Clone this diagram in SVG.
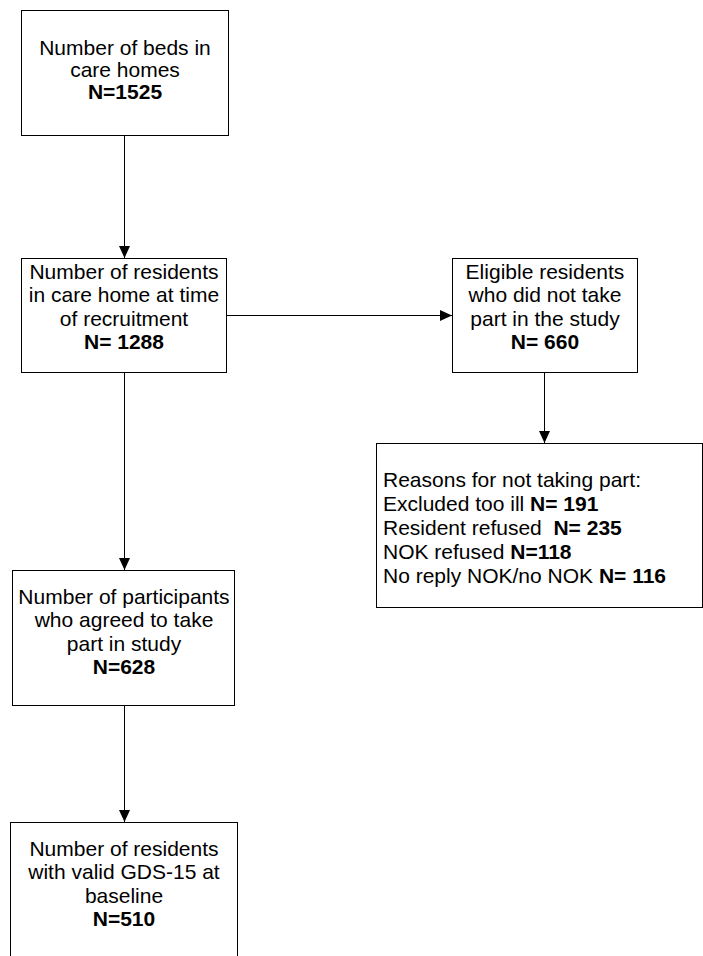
<svg xmlns="http://www.w3.org/2000/svg" width="703" height="956" viewBox="0 0 703 956">
<style>
.box{fill:#fff;stroke:#000;stroke-width:1}
.t{font-family:"Liberation Sans",Arial,sans-serif;font-size:21px;fill:#000;text-anchor:middle}
.l{text-anchor:start}
.b{font-weight:bold}
.c{stroke:#000;stroke-width:1;fill:none}
</style>
<defs>
<marker id="ah" markerUnits="userSpaceOnUse" markerWidth="12" markerHeight="12" viewBox="0 0 12 12" refX="12" refY="6" orient="auto">
<path d="M0,0.5 L12,6 L0,11.5 Z" fill="#000"/>
</marker>
</defs>
<g id="connectors">
<line class="c" x1="124.5" y1="136" x2="124.5" y2="258" marker-end="url(#ah)"/>
<line class="c" x1="124.5" y1="373" x2="124.5" y2="570" marker-end="url(#ah)"/>
<line class="c" x1="124.5" y1="706" x2="124.5" y2="822" marker-end="url(#ah)"/>
<line class="c" x1="226" y1="315.5" x2="452" y2="315.5" marker-end="url(#ah)"/>
<line class="c" x1="544.5" y1="373" x2="544.5" y2="443" marker-end="url(#ah)"/>
</g>
<g id="beds">
<rect class="box" x="21.5" y="10.5" width="207" height="125"/>
<text class="t" x="125" y="55">Number of beds in</text>
<text class="t" x="125" y="77">care homes</text>
<text class="t b" x="125" y="99">N=1525</text>
</g>
<g id="residents">
<rect class="box" x="21.5" y="258.5" width="205" height="114"/>
<text class="t" x="124" y="279">Number of residents</text>
<text class="t" x="124" y="302">in care home at time</text>
<text class="t" x="124" y="326">of recruitment</text>
<text class="t b" x="124" y="349">N= 1288</text>
</g>
<g id="eligible">
<rect class="box" x="452.5" y="258.5" width="185" height="114"/>
<text class="t" x="545" y="279">Eligible residents</text>
<text class="t" x="545" y="302">who did not take</text>
<text class="t" x="545" y="326">part in the study</text>
<text class="t b" x="545" y="349">N= 660</text>
</g>
<g id="reasons">
<rect class="box" x="376.5" y="443.5" width="326" height="164"/>
<text class="t l" x="383" y="487">Reasons for not taking part:</text>
<text class="t l" x="383" y="511">Excluded too ill <tspan class="b">N= 191</tspan></text>
<text class="t l" x="383" y="535" xml:space="preserve">Resident refused  <tspan class="b">N= 235</tspan></text>
<text class="t l" x="383" y="559">NOK refused <tspan class="b">N=118</tspan></text>
<text class="t l" x="383" y="583">No reply NOK/no NOK <tspan class="b">N= 116</tspan></text>
</g>
<g id="participants">
<rect class="box" x="12.5" y="570.5" width="222" height="135"/>
<text class="t" x="124" y="604">Number of participants</text>
<text class="t" x="124" y="627">who agreed to take</text>
<text class="t" x="124" y="651">part in study</text>
<text class="t b" x="124" y="674">N=628</text>
</g>
<g id="gds">
<rect class="box" x="10.5" y="822.5" width="227" height="140"/>
<text class="t" x="124" y="856">Number of residents</text>
<text class="t" x="124" y="879">with valid GDS-15 at</text>
<text class="t" x="124" y="903">baseline</text>
<text class="t b" x="124" y="926">N=510</text>
</g>
</svg>
